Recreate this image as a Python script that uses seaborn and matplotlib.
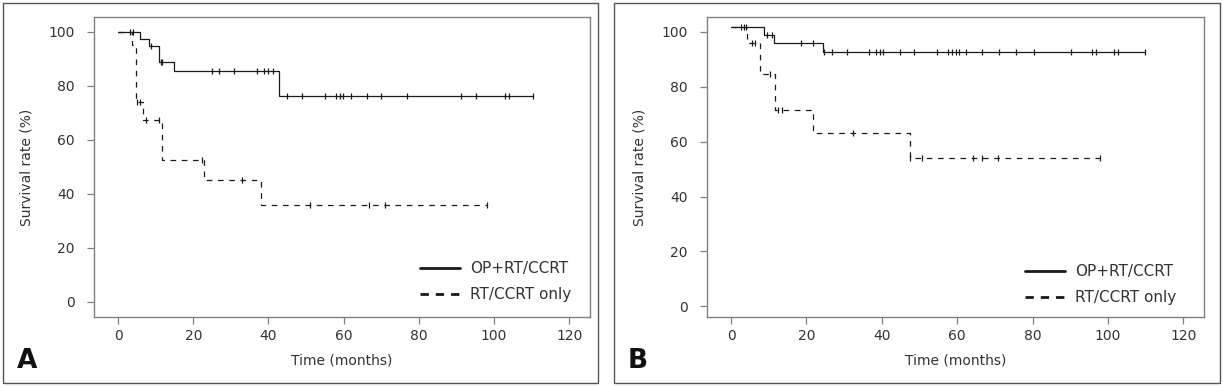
import numpy as np
import pandas as pd
import matplotlib
matplotlib.use("Agg")
import matplotlib.pyplot as plt
from matplotlib.lines import Line2D
from matplotlib.patches import Rectangle
import seaborn as sns

sns.set_theme(style="white")
plt.rcParams['font.family'] = ['DejaVu Sans']

# ---------------- data ----------------
group_labels = ["OP+RT/CCRT", "RT/CCRT only"]
x_ticks = [0, 20, 40, 60, 80, 100, 120]
y_ticks = [0, 20, 40, 60, 80, 100]

# Panel A
a_op_times = [0, 5.9, 8.3, 11.0, 14.9, 42.9]
a_op_surv = [100, 97.2, 94.6, 88.7, 85.6, 76.2]
a_op_end = 110.3
a_op_cens = [3.2, 4.0, 8.7, 11.3, 11.8, 24.9, 26.9, 30.9, 36.9, 38.9, 40.0, 41.1,
             44.9, 49.0, 55.1, 58.0, 58.9, 59.8, 61.9, 66.1, 69.9, 76.9, 91.1,
             95.1, 103.0, 103.9, 110.3]

a_rt_times = [0, 3.6, 4.8, 6.7, 11.8, 22.9, 37.9]
a_rt_surv = [100, 95.2, 73.9, 67.4, 52.4, 45.0, 35.8]
a_rt_end = 98.2
a_rt_cens = [5.0, 5.8, 7.4, 10.9, 22.4, 32.9, 51.1, 66.8, 71.0, 98.2]

# Panel B
b_op_times = [0, 8.6, 11.5, 24.5]
b_op_surv = [101.8, 98.8, 95.8, 92.6]
b_op_end = 109.8
b_op_cens = [2.6, 3.3, 4.0, 9.5, 10.8, 18.6, 21.6, 24.7, 26.7, 30.7, 36.6, 38.4,
             39.4, 40.4, 44.8, 48.6, 54.7, 57.6, 58.5, 59.6, 60.4, 62.3, 66.6,
             71.1, 75.6, 80.4, 90.2, 95.8, 96.8, 101.6, 102.7, 109.8]

b_rt_times = [0, 4.2, 7.7, 11.6, 21.6, 47.5]
b_rt_surv = [101.8, 96.0, 84.8, 71.4, 63.0, 54.1]
b_rt_end = 97.9
b_rt_cens = [5.5, 6.4, 10.3, 12.5, 13.4, 32.4, 47.6, 50.6, 64.3, 66.5, 70.7, 97.9]

panels = {
    "A": [(a_op_times, a_op_surv, a_op_end, a_op_cens),
          (a_rt_times, a_rt_surv, a_rt_end, a_rt_cens)],
    "B": [(b_op_times, b_op_surv, b_op_end, b_op_cens),
          (b_rt_times, b_rt_surv, b_rt_end, b_rt_cens)],
}

# ---------------- figure ----------------
W, H = 1223, 386
fig = plt.figure(figsize=(W / 100, H / 100), dpi=100)
fig.patch.set_facecolor("white")

def fx(px):
    return px / W

def fy(py):
    return 1 - py / H

axes_px = {
    "A": dict(left=94, right=590, top=17, bottom=317, ylim=(-5.55, 105.4)),
    "B": dict(left=707, right=1204, top=17, bottom=317, ylim=(-3.9, 105.4)),
}
outer_px = {"A": (3, 3, 598, 383), "B": (614, 3, 1220, 383)}
letter_px = {"A": (17, 368), "B": (628, 368)}
legend_anchor = {"A": (0.657, 0.118), "B": (0.640, 0.108)}

line_col = "#1a1a1a"
frame_col = "#808080"
text_col = "#333333"
styles = ["-", (0, (4.5, 4.5))]

for key in ["A", "B"]:
    p = axes_px[key]
    ax = fig.add_axes([fx(p["left"]), fy(p["bottom"]),
                       fx(p["right"] - p["left"]), (p["bottom"] - p["top"]) / H])
    ax.set_facecolor("white")
    for gi, (times, surv, end, cens) in enumerate(panels[key]):
        t = list(times) + [end]
        s = list(surv) + [surv[-1]]
        df = pd.DataFrame({"t": t, "s": s})
        sns.lineplot(data=df, x="t", y="s", ax=ax, drawstyle="steps-post",
                     color=line_col, linestyle=styles[gi], linewidth=0.9,
                     estimator=None, sort=False, legend=False)
        idx = np.searchsorted(np.array(times), np.array(cens), side="right") - 1
        cy = np.array(surv)[idx]
        cdf = pd.DataFrame({"t": cens, "s": cy})
        sns.scatterplot(data=cdf, x="t", y="s", ax=ax, marker="|", s=24,
                        color=line_col, linewidth=0.9, legend=False, zorder=3)

    ax.set_xlim(-6.4, 125.5)
    ax.set_ylim(*p["ylim"])
    ax.set_xticks(x_ticks)
    ax.set_yticks(y_ticks)
    ax.set_xticklabels([str(v) for v in x_ticks])
    ax.set_yticklabels([str(v) for v in y_ticks])
    for sp in ax.spines.values():
        sp.set_color(frame_col)
        sp.set_linewidth(1.0)
        sp.set_visible(True)
    ax.tick_params(axis="both", which="major", direction="out", length=5,
                   width=0.9, color=frame_col, labelcolor=text_col, labelsize=10,
                   left=True, bottom=True)
    ax.tick_params(axis="y", pad=9)
    ax.tick_params(axis="x", pad=4)
    ax.set_xlabel("Time (months)", fontsize=10, color=text_col)
    ax.set_ylabel("Survival rate (%)", fontsize=10, color=text_col)
    ax.xaxis.set_label_coords(0.5, -0.122)
    ax.yaxis.set_label_coords(-0.121, 0.5)
    ax.grid(False)

    handles = [Line2D([0], [0], color=line_col, lw=2.0, linestyle="-"),
               Line2D([0], [0], color=line_col, lw=2.0, linestyle=(0, (3, 2.5)))]
    leg = ax.legend(handles, group_labels, loc="center left",
                    bbox_to_anchor=legend_anchor[key], frameon=False,
                    fontsize=11, handlelength=2.6, handletextpad=0.7,
                    labelspacing=0.72, borderaxespad=0, borderpad=0)
    for txt in leg.get_texts():
        txt.set_color(text_col)

    x0, y0, x1, y1 = outer_px[key]
    fig.patches.append(Rectangle((fx(x0), fy(y1)), fx(x1 - x0), (y1 - y0) / H,
                                 transform=fig.transFigure, fill=False,
                                 edgecolor="#555555", linewidth=1.0))
    lx, ly = letter_px[key]
    fig.text(fx(lx), fy(ly), key, fontsize=19, fontweight="bold",
             color="#111111", ha="left", va="baseline")

fig.savefig("out.png", dpi=100, facecolor="white")
